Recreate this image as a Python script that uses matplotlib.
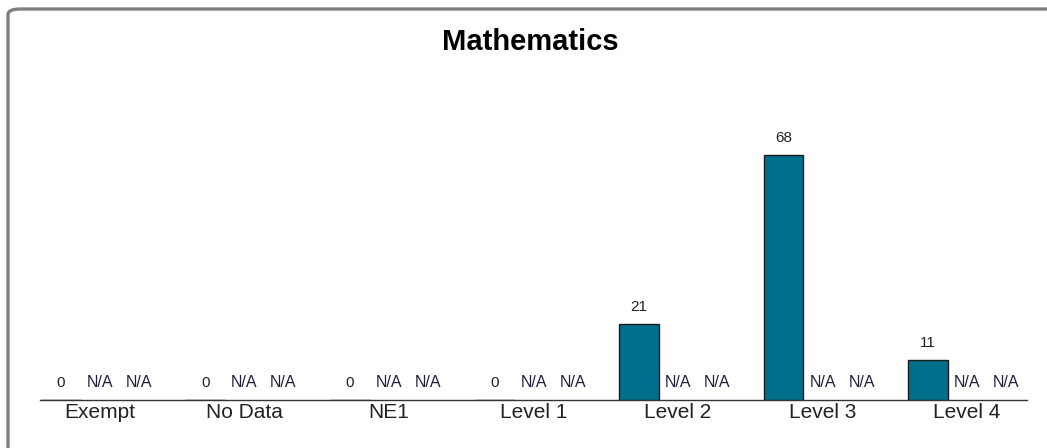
import numpy as np
import matplotlib
matplotlib.use("Agg")
import matplotlib.pyplot as plt
from matplotlib.patches import FancyBboxPatch

categories = ['Exempt', 'No Data', 'NE1', 'Level 1', 'Level 2', 'Level 3', 'Level 4']
series_a = [0, 0, 0, 0, 21, 68, 11]
series_b = [None] * 7
series_c = [None] * 7

plt.rcParams['font.family'] = ['Liberation Sans', 'DejaVu Sans']

fig = plt.figure(figsize=(10.47, 4.48), dpi=100)

# rounded gray frame (runs off right/bottom edge)
frame = FancyBboxPatch((8 / 1047, -20 / 448), 1.2, (448 - 9 + 20) / 448,
                       boxstyle="round,pad=0,rounding_size=0.012",
                       transform=fig.transFigure, facecolor='none',
                       edgecolor='#808080', linewidth=2.4, clip_on=False)
fig.patches.append(frame)

ax = fig.add_axes([40 / 1047, 48 / 448, 987 / 1047, 288 / 448])
ax.set_xlim(-0.414, 6.414)
ax.set_ylim(0, 80)

x = np.arange(len(categories))
off = 0.27
w = 0.275
teal = '#006F8B'
txt = '#222222'

vals_a = np.array(series_a, dtype=float)
ax.bar(x - off, vals_a, width=w, color=teal, edgecolor='#1a1a1a', linewidth=1.0, zorder=3)

for xi, v in zip(x, series_a):
    ax.annotate(str(v), (xi - off, v), xytext=(0, 12.5), textcoords='offset points',
                ha='center', va='center', fontsize=11, color=txt)
for series, dx in ((series_b, 0), (series_c, off)):
    for xi, v in zip(x, series):
        label = 'N/A' if v is None else str(v)
        height = 0 if v is None else v
        ax.annotate(label, (xi + dx, height), xytext=(0, 12.5), textcoords='offset points',
                    ha='center', va='center', fontsize=11.5, color='#221d3a')

ax.set_xticks(x)
ax.set_xticklabels(categories, fontsize=15, color='#222222')
ax.tick_params(axis='x', length=0, pad=2)
ax.set_yticks([])
for s in ('top', 'right', 'left'):
    ax.spines[s].set_visible(False)
ax.spines['bottom'].set_color('#333333')
ax.spines['bottom'].set_linewidth(1.0)
ax.patch.set_alpha(0)

fig.text(530 / 1047, 1 - 42 / 448, 'Mathematics', ha='center', va='center',
         fontsize=21, fontweight='bold', color='black')

fig.savefig('out.png', dpi=100)
